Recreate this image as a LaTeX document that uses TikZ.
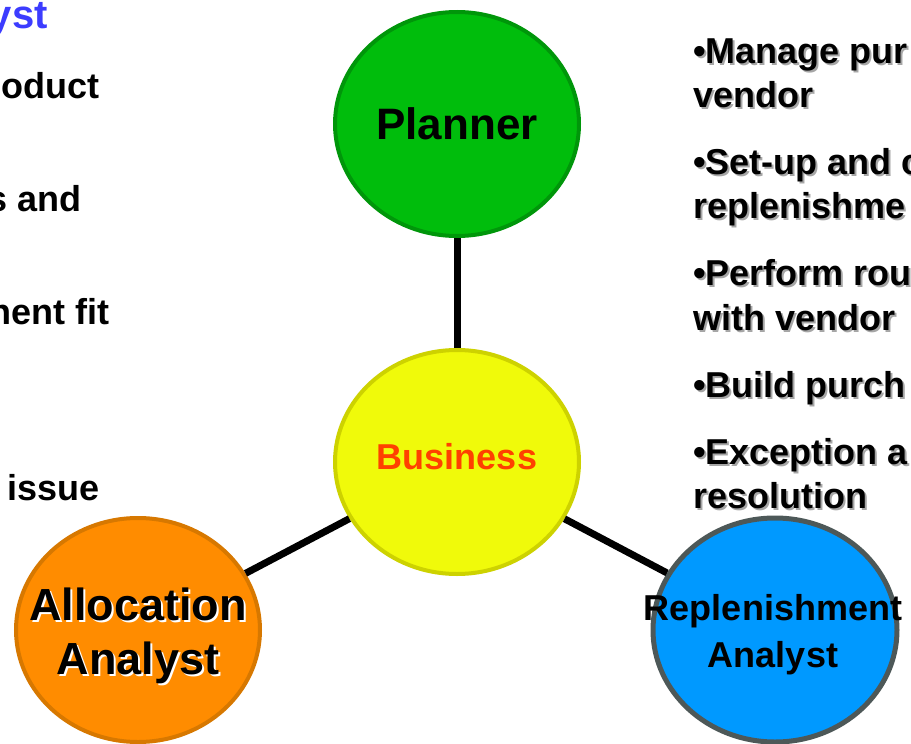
\documentclass[tikz,border=0pt]{standalone}
\usepackage{fontspec}
\setmainfont{Liberation Sans}
\usetikzlibrary{shapes.geometric}
\definecolor{plangreen}{RGB}{0,189,12}
\definecolor{planedge}{RGB}{0,150,10}
\definecolor{busyellow}{RGB}{240,250,10}
\definecolor{busedge}{RGB}{205,210,0}
\definecolor{busred}{RGB}{255,64,0}
\definecolor{allocorange}{RGB}{255,140,0}
\definecolor{allocedge}{RGB}{215,120,0}
\definecolor{replblue}{RGB}{0,153,255}
\definecolor{repledge}{RGB}{77,88,88}
\definecolor{headblue}{RGB}{60,60,255}
\newcommand{\shad}[2]{\rlap{\kern2pt\raisebox{-2pt}{\textcolor{#1}{#2}}}#2}

\begin{document}
\begin{tikzpicture}[x=1pt,y=-1pt,
    role/.style={ellipse,draw,line width=4pt,minimum width=244pt,minimum height=224pt,inner sep=0pt},
    rolename/.style={align=center,inner sep=0pt,font=\bfseries\fontsize{36pt}{47pt}\selectfont},
    duty/.style={anchor=base west,inner sep=0pt,font=\bfseries\fontsize{36pt}{44pt}\selectfont},
    task/.style={anchor=base east,inner sep=0pt,font=\bfseries\fontsize{36pt}{44pt}\selectfont},
    link/.style={line width=7pt}]
    \useasboundingbox (0,0) rectangle (911,744);
    \clip (0,0) rectangle (911,744);

    \node[role,fill=plangreen,draw=planedge] (plan) at (457,124) {};
    \node[role,fill=busyellow,draw=busedge] (bus) at (457,462) {};
    \node[role,fill=allocorange,draw=allocedge] (alloc) at (138,630) {};
    \node[role,fill=replblue,draw=repledge,line width=5pt] (repl) at (775,630) {};

    \node[rolename,font=\bfseries\fontsize{44pt}{50pt}\selectfont] (plan-txt) at (457,124) {Planner};
    \node[rolename,text=busred] (bus-txt) at (457,457) {Business};
    \node[rolename,font=\bfseries\fontsize{45pt}{54pt}\selectfont] (alloc-txt) at (138,637) {\shad{white}{Allocation}\\\shad{white}{Analyst}};
    \node[rolename] (repl-txt) at (773,635) {Replenishment\\Analyst};

    \draw[link] (plan) -- (bus);
    \draw[link] (bus) -- (alloc);
    \draw[link] (bus) -- (repl);

    % left column, cut off at the page edge
    \node[task,text=headblue,font=\bfseries\fontsize{40pt}{44pt}\selectfont] (alloc-head) at (48,28) {yst};
    \node[task] (alloc-a) at (100,98) {oduct};
    \node[task] (alloc-b) at (82,211) {s and};
    \node[task] (alloc-c) at (110,324) {nent fit};
    \node[task] (alloc-d) at (100,500) {issue};

    % right column
    \node[duty] (repl-a1) at (693,63) {\shad{gray!70}{•Manage pur}};
    \node[duty] (repl-a2) at (693,107) {\shad{gray!70}{vendor}};
    \node[duty] (repl-b1) at (693,174) {\shad{gray!70}{•Set-up and c}};
    \node[duty] (repl-b2) at (693,218) {\shad{gray!70}{replenishme}};
    \node[duty] (repl-c1) at (693,285) {\shad{gray!70}{•Perform rou}};
    \node[duty] (repl-c2) at (693,330) {\shad{gray!70}{with vendor}};
    \node[duty] (repl-d1) at (693,397) {\shad{gray!70}{•Build purch}};
    \node[duty] (repl-e1) at (693,464) {\shad{gray!70}{•Exception a}};
    \node[duty] (repl-e2) at (693,508) {\shad{gray!70}{resolution}};
\end{tikzpicture}
\end{document}
